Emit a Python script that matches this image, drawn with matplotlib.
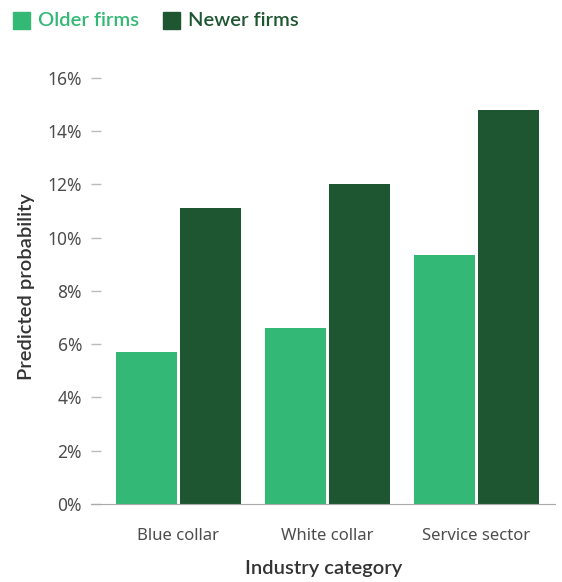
import matplotlib.pyplot as plt
import numpy as np
from matplotlib.patches import Rectangle

categories = ['Blue collar', 'White collar', 'Service sector']
older_firms = [5.7, 6.6, 9.35]
newer_firms = [11.1, 12.0, 14.8]
yticks = [0, 2, 4, 6, 8, 10, 12, 14, 16]

light_green = '#33b875'
dark_green = '#1e5631'
text_gray = '#4d4d4d'

plt.rcParams['font.family'] = ['Noto Sans', 'DejaVu Sans']
heavy = ['Lato', 'DejaVu Sans']

fig = plt.figure(figsize=(5.62, 5.82), dpi=100)
ax = fig.add_axes([0.162, 0.134, 0.826, 0.746])

x = np.arange(len(categories))
w = 0.41
ax.bar(x - w / 2 - 0.01, older_firms, width=w, color=light_green)
ax.bar(x + w / 2 + 0.01, newer_firms, width=w, color=dark_green)

ax.set_xlim(-0.585, 2.53)
ax.set_ylim(0, 16.3)
ax.set_yticks(yticks)
ax.set_yticklabels([f'{t}%' for t in yticks])
ax.set_xticks(x)
ax.set_xticklabels(categories)

for s in ['top', 'right', 'left']:
    ax.spines[s].set_visible(False)
ax.spines['bottom'].set_color('#aaaaaa')
ax.tick_params(axis='y', direction='in', length=7.5, width=1, color='#bbbbbb',
               pad=6.5, labelsize=12.5, labelcolor=text_gray)
ax.tick_params(axis='x', length=0, pad=17, labelsize=12, labelcolor=text_gray)

ax.set_ylabel('Predicted probability', fontsize=14.5, color='#333333',
              labelpad=9, fontweight=600, family=heavy)
ax.set_xlabel('Industry category', fontsize=14.5, color='#333333',
              labelpad=12, fontweight=600, family=heavy)

# legend drawn by hand at the top
sq = 17 / 562
sqh = 17 / 582
fig.patches.append(Rectangle((13 / 562, 1 - 29 / 582), sq, sqh, color=light_green,
                             transform=fig.transFigure, figure=fig))
fig.text(38 / 562, 1 - 21 / 582, 'Older firms', color=light_green, fontsize=14.5,
         va='center', ha='left', fontweight=600, family=heavy)
fig.patches.append(Rectangle((163 / 562, 1 - 29 / 582), sq, sqh, color=dark_green,
                             transform=fig.transFigure, figure=fig))
fig.text(188 / 562, 1 - 21 / 582, 'Newer firms', color=dark_green, fontsize=14.5,
         va='center', ha='left', fontweight=600, family=heavy)

fig.savefig('out.png', dpi=100)
